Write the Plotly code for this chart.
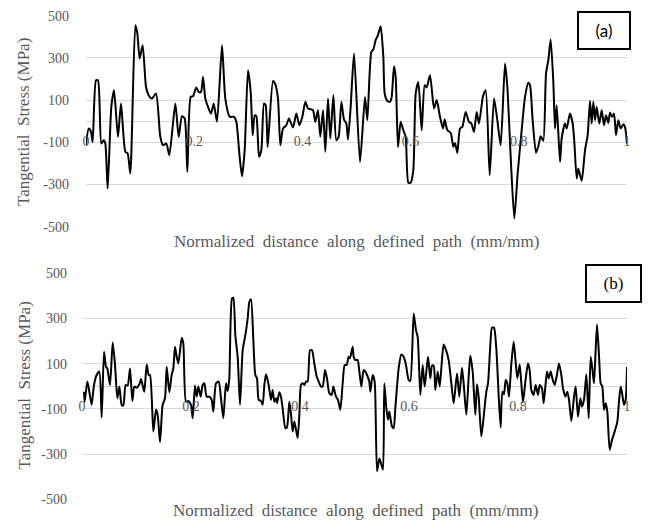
import plotly.graph_objects as go

# ---- data ----
xa = [0.000, 0.0049, 0.0092, 0.0123, 0.0185, 0.0222, 0.0283, 0.0327, 0.0357, 0.0400,
      0.0468, 0.0518, 0.0591, 0.0647, 0.0727, 0.0770, 0.0819, 0.0912, 0.0949, 0.0992,
      0.1047, 0.1109, 0.1158, 0.1220, 0.1294, 0.1374, 0.1423, 0.1485, 0.1540, 0.1651,
      0.1713, 0.1774, 0.1824, 0.1873, 0.1935, 0.1978, 0.2039, 0.2083, 0.2126, 0.2163,
      0.2206, 0.2267, 0.2311, 0.2360, 0.2421,
      0.2514, 0.2575, 0.2656, 0.2736, 0.2779, 0.2840, 0.2884, 0.2933, 0.2994, 0.3044,
      0.3081, 0.3118, 0.3148, 0.3198, 0.3241, 0.3290, 0.3321, 0.3358, 0.3457, 0.3500,
      0.3549, 0.3592, 0.3641, 0.3703, 0.3752, 0.3826, 0.3888, 0.3943, 0.3999, 0.4054,
      0.4104, 0.4153, 0.4196, 0.4239, 0.4288, 0.4331, 0.4381, 0.4424, 0.4473, 0.4516,
      0.4572, 0.4627, 0.4670, 0.4720, 0.4769, 0.4812, 0.4843, 0.4892, 0.4954,
      0.5065, 0.5157, 0.5200, 0.5274, 0.5311, 0.5354, 0.5397, 0.5447, 0.5496, 0.5521,
      0.5570, 0.5619, 0.5650, 0.5693, 0.5724, 0.5767, 0.5816, 0.5866, 0.5909, 0.5958,
      0.6001, 0.6050, 0.6094, 0.6143, 0.6205, 0.6260, 0.6297, 0.6359, 0.6433, 0.6482,
      0.6543, 0.6599, 0.6630, 0.6679, 0.6741, 0.6790, 0.6821, 0.6864, 0.6913, 0.6956,
      0.7018, 0.7079, 0.7123, 0.7172, 0.7221, 0.7264, 0.7338, 0.7388, 0.7462,
      0.7542, 0.7603, 0.7665, 0.7745, 0.7788, 0.7850, 0.7917, 0.7979, 0.8053, 0.8115,
      0.8176, 0.8207, 0.8256, 0.8318, 0.8361, 0.8404, 0.8453, 0.8503, 0.8546, 0.8589,
      0.8638, 0.8669, 0.8700, 0.8762, 0.8792, 0.8854, 0.8885, 0.8946, 0.8996, 0.9026,
      0.9070, 0.9100, 0.9162, 0.9224, 0.9273, 0.9316, 0.9347, 0.9378, 0.9409, 0.9439,
      0.9488, 0.9532, 0.9575, 0.9612, 0.9655, 0.9686, 0.9723, 0.9760, 0.9797, 0.9840,
      0.9883, 0.9932, 0.9963, 1.0000]
ya = [-114, -35, -50, -98, 194, 194, -106, -90, -106, -319,
      68, 147, -74, 84, -145, -153, -248, 455, 416, 297,
      360, 163, 123, 107, 131, -74, -114, -106, -161, 84,
      -74, 24, 13, -240, 115, 118, 160, 139, 139, 210,
      107, 60, 36, 84, -3,
      360, 107, 21, 21, -3, -169, -261, -137, 242, 139,
      -66, 28, 24, -169, -137, 84, 76, -122, 191, 175,
      107, -114, -35, -19, 13, -30, 36, -19, 21, 92,
      60, 57, 52, -3, 52, -74, 52, -145, 107, -82,
      123, -90, -74, 92, 8, -11, -87, 68, 321,
      -193, 115, 5, 329, 340, 384, 408, 450, 305, 131,
      96, 92, 115, 261, 210, -122, -3, -43, -74, -292,
      -292, -232, 131, 186, -43, 171, 160, 218, 60, 100,
      21, -35, 8, -43, -55, -122, -103, -150, -35, -27,
      44, -3, -11, -51, 44, -11, 118, 147, -256,
      107, 5, -114, 273, 163, -169, -461, -248, -43, 115,
      182, 171, 5, -150, -119, -71, -93, 226, 289, 387,
      186, -35, 76, -193, -82, -11, -35, 36, -11, -98,
      -272, -224, -283, -137, -66, 96, -11, 92, 5, 68,
      -11, 52, -19, 28, -8, 41, 21, 36, -66, 5,
      -35, -14, -27, -106]

xb = [0.0037, 0.0049, 0.0098, 0.0135, 0.0177, 0.0220, 0.0269, 0.0318, 0.0361, 0.0404,
      0.0440, 0.0465, 0.0514, 0.0563, 0.0606, 0.0648, 0.0685, 0.0728, 0.0758, 0.0801,
      0.0838, 0.0881, 0.0924, 0.0960, 0.1003, 0.1052, 0.1083, 0.1125, 0.1144, 0.1187,
      0.1223, 0.1248, 0.1309, 0.1358, 0.1388, 0.1431, 0.1480, 0.1523, 0.1554, 0.1602,
      0.1645, 0.1676, 0.1706, 0.1737, 0.1768, 0.1829, 0.1859, 0.1908, 0.1951, 0.2000,
      0.2031, 0.2073, 0.2104, 0.2135, 0.2177, 0.2214, 0.2245, 0.2287, 0.2336, 0.2379,
      0.2410, 0.2459,
      0.2508, 0.2550, 0.2593, 0.2642, 0.2673, 0.2703, 0.2752, 0.2777, 0.2813, 0.2856,
      0.2899, 0.2948, 0.2997, 0.3040, 0.3070, 0.3101, 0.3144, 0.3180, 0.3211, 0.3242,
      0.3284, 0.3315, 0.3346, 0.3376, 0.3425, 0.3468, 0.3498, 0.3529, 0.3560, 0.3578,
      0.3621, 0.3651, 0.3682, 0.3731, 0.3761, 0.3804, 0.3835, 0.3865, 0.3896, 0.3927,
      0.3957, 0.3988, 0.4018, 0.4049, 0.4080, 0.4110, 0.4141, 0.4183, 0.4220, 0.4263,
      0.4306, 0.4343, 0.4385, 0.4416, 0.4459, 0.4495, 0.4538, 0.4581, 0.4612, 0.4661,
      0.4697, 0.4740, 0.4783, 0.4820, 0.4856, 0.4893, 0.4917, 0.4966,
      0.4985, 0.5015, 0.5058, 0.5089, 0.5125, 0.5168, 0.5199, 0.5229, 0.5272, 0.5291,
      0.5333, 0.5370, 0.5413, 0.5456, 0.5492, 0.5523, 0.5547, 0.5584, 0.5615, 0.5639,
      0.5688, 0.5719, 0.5749, 0.5810, 0.5859, 0.5902, 0.5945, 0.5994, 0.6024, 0.6086,
      0.6128, 0.6159, 0.6208, 0.6251, 0.6288, 0.6349, 0.6391, 0.6422, 0.6453, 0.6483,
      0.6526, 0.6563, 0.6593, 0.6636, 0.6679, 0.6728, 0.6777, 0.6820, 0.6881, 0.6923,
      0.6972, 0.7003, 0.7052, 0.7095, 0.7125, 0.7168, 0.7217, 0.7248, 0.7278, 0.7327,
      0.7370, 0.7419, 0.7450, 0.7492,
      0.7523, 0.7560, 0.7602, 0.7645, 0.7682, 0.7713, 0.7743, 0.7774, 0.7804, 0.7835,
      0.7878, 0.7920, 0.7951, 0.7988, 0.8031, 0.8061, 0.8092, 0.8135, 0.8183, 0.8214,
      0.8245, 0.8288, 0.8324, 0.8367, 0.8398, 0.8440, 0.8471, 0.8502, 0.8532, 0.8563,
      0.8600, 0.8630, 0.8673, 0.8716, 0.8752, 0.8795, 0.8826, 0.8869, 0.8905, 0.8936,
      0.8979, 0.9028, 0.9058, 0.9101, 0.9144, 0.9174, 0.9211, 0.9254, 0.9297, 0.9333,
      0.9364, 0.9394, 0.9425, 0.9450, 0.9486, 0.9517, 0.9547, 0.9578, 0.9609, 0.9639,
      0.9682, 0.9725, 0.9774, 0.9823, 0.9853, 0.9884, 0.9914, 0.9945, 0.9976, 1.0000]
yb = [-24, -68, 21, -24, -82, 6, 50, 65, -138, 153,
      87, 79, 6, 194, 94, -53, -1, -82, -85, 6,
      3, 79, -65, -1, -6, 9, 32, -9, -24, 97,
      50, 50, -200, -104, -126, -247, -82, -53, 87, -26,
      50, 79, 175, 131, 101, 215, 190, -68, -65, -82,
      -141, 3, -46, -1, -46, 6, 13, -46, -46, -60,
      -112, 13,
      21, -53, -141, 13, -21, 35, 388, 391, 226, 131,
      -82, 160, 226, 300, 373, 385, 204, 50, 35, -60,
      -65, -82, 6, 53, 6, -60, -16, -68, -53, -75,
      -26, -46, -97, -185, -182, -68, -123, -200, -156, -193,
      -229, -126, 6, 13, 6, 21, 21, 160, 160, 101,
      43, 21, -1, -1, 72, 35, -31, -38, -1, -46,
      -60, -104, 13, 94, 94, 131, 124, 175,
      131, 116, 116, 65, -1, 72, 65, 50, 21, -24,
      50, 21, -376, -320, -347, -369, 13, -97, -148, -112,
      -178, -185, -97, 79, 141, 131, 94, 28, 24, 322,
      248, 219, -38, 94, -1, 131, 35, 91, 91, -16,
      65, -1, 79, 185, 160, 116, 13, -75, 57, -46,
      82, 13, -126, 43, 135, 65, -126, 9, -46, -222,
      -134, -24, 13, 182,
      260, 259, 168, -38, -182, -24, -35, 28, 13, -46,
      101, 197, 124, 35, 97, 13, -71, 21, 101, 72,
      -16, -38, 6, -38, 6, -9, -75, -1, 65, 35,
      65, 35, 6, 53, 101, 50, -9, -46, -24, -60,
      -153, -46, -1, -134, -53, -90, -60, 53, -141, 131,
      79, 13, 160, 273, 137, 13, -1, -104, -75, -112,
      -281, -237, -200, -156, -68, -1, -38, -82, -60, 85]

y_tickvals = [-500, -300, -100, 100, 300, 500]
y_ticktext = ["-500", "-300", "-100", "100", "300", "500"]
x_tickvals = [0, 0.2, 0.4, 0.6, 0.8, 1]
x_ticktext = ["0", "0.2", "0.4", "0.6", "0.8", "1"]

y_title = "Tangential  Stress (MPa)"
x_title = "Normalized  distance  along  defined  path  (mm/mm)"
label_a = "(a)"
label_b = "(b)"

# ---- layout ----
W, H = 649, 522
def px_x(p):
    return p / W
def px_y(p):
    return 1 - p / H

top_xd = [px_x(86), px_x(627)]
top_yd = [px_y(226.7), px_y(15.7)]
bot_xd = [px_x(82), px_x(627)]
bot_yd = [px_y(499.3), px_y(273.3)]

GRAY = "#595959"
GRID = "#d9d9d9"
SERIF = "Liberation Serif"
tickfont = dict(family=SERIF, size=14, color=GRAY)

line_style = dict(color="black", width=2, shape="spline", smoothing=0.6)

fig = go.Figure()
fig.add_trace(go.Scatter(x=xa, y=ya, xaxis="x", yaxis="y", mode="lines",
                         line=line_style, hoverinfo="skip", showlegend=False))
fig.add_trace(go.Scatter(x=xb, y=yb, xaxis="x2", yaxis="y2", mode="lines",
                         line=line_style, hoverinfo="skip", showlegend=False))

def yaxis(domain, anchor, standoff):
    return dict(domain=domain, anchor=anchor, range=[-500, 500], automargin=False,
                tickvals=y_tickvals, ticktext=y_ticktext, tickfont=tickfont,
                showgrid=True, gridcolor=GRID, gridwidth=1,
                zeroline=True, zerolinecolor=GRID, zerolinewidth=1,
                showline=False, ticks="", ticklabelstandoff=standoff, fixedrange=True)

def xaxis(domain, ydomain):
    return dict(domain=domain, anchor="free", position=(ydomain[0] + ydomain[1]) / 2,
                range=[0, 1], automargin=False,
                tickvals=x_tickvals, ticktext=x_ticktext, tickfont=tickfont,
                showgrid=False, zeroline=False, showline=False, ticks="",
                ticklabelstandoff=10, fixedrange=True)

fig.update_layout(
    template="none",
    width=W, height=H,
    margin=dict(l=0, r=0, t=0, b=0, pad=0, autoexpand=False),
    paper_bgcolor="white", plot_bgcolor="white",
    xaxis=xaxis(top_xd, top_yd),
    yaxis=yaxis(top_yd, "x", 16),
    xaxis2=xaxis(bot_xd, bot_yd),
    yaxis2=yaxis(bot_yd, "x2", 14),
)

title_font = dict(family=SERIF, size=17, color=GRAY)
annotations = [
    dict(text=y_title, x=px_x(24), y=px_y(122), xref="paper", yref="paper",
         textangle=-90, showarrow=False, font=title_font, xanchor="center", yanchor="middle"),
    dict(text=y_title, x=px_x(23.5), y=px_y(386), xref="paper", yref="paper",
         textangle=-90, showarrow=False, font=title_font, xanchor="center", yanchor="middle"),
    dict(text=x_title, x=px_x(356), y=px_y(241), xref="paper", yref="paper",
         showarrow=False, font=title_font, xanchor="center", yanchor="middle"),
    dict(text=x_title, x=px_x(355), y=px_y(510), xref="paper", yref="paper",
         showarrow=False, font=title_font, xanchor="center", yanchor="middle"),
    dict(text=label_a, x=px_x(604), y=px_y(30.5), xref="paper", yref="paper",
         showarrow=False, font=dict(family="Lato", size=17, color="black"),
         xanchor="center", yanchor="middle", width=50, height=35,
         bordercolor="black", borderwidth=2, borderpad=0, bgcolor="white"),
    dict(text=label_b, x=px_x(613.5), y=px_y(283.5), xref="paper", yref="paper",
         showarrow=False, font=dict(family=SERIF, size=17, color="black"),
         xanchor="center", yanchor="middle", width=53, height=35,
         bordercolor="black", borderwidth=2, borderpad=0, bgcolor="white"),
]
fig.update_layout(annotations=annotations)

fig.write_html("out.html",
               config={"displayModeBar": False, "staticPlot": True},
               post_script="document.body.style.margin='0';document.body.style.overflow='hidden';")
